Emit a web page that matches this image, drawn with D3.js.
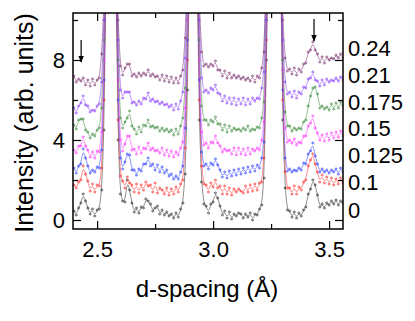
<!DOCTYPE html>
<meta charset="utf-8">
<style>
body { margin: 0; background: #fff; }
text { font-family: "Liberation Sans", Arial, sans-serif; fill: #000; }
.axis path { display: none; }
.axis line { stroke: #000; stroke-width: 1.2px; }
.axis text { font-size: 22px; }
</style>
<svg width="415" height="321"></svg>
<script src="https://d3js.org/d3.v7.min.js"></script>
<script>

// d-spacing grid: first value and step (A)
var dStart = 2.40, dStep = 0.01;

// intensity of each composition, offset as in the figure
var s000 = [0.45,0.25,0.6,0.85,1.3,0.95,0.6,0.3,0.55,0.2, 0.5,0.55,1.5,4.5,14,15,15,15,14,4.0,
  1.3,0.95,0.9,2.0,1.5,0.85,0.4,0.6,0.35,0.65, 0.6,1.05,0.95,0.8,0.45,0.6,0.7,0.3,0.5,0.25,
  0.4,0.2,0.3,0.1,0.35,0.15,0.55,0.85,2.3,6.5, 15,15,15,14,5.0,1.9,0.8,0.7,0.35,0.8,
  0.9,1.35,1.1,0.7,0.25,0.45,0.1,0.4,0.05,0.3, 0.2,0.35,0.3,0.1,0.3,0.15,0.35,0.0,0.3,0.25,
  0.55,0.75,2.1,8,15,15,15,15,15,14, 5,1.6,0.5,0.45,0.15,0.4,0.1,0.35,0.2,0.5,
  0.65,1.3,1.55,2.0,1.75,1.25,0.65,0.8,0.6,0.85, 0.75,0.95,0.8,1.0,0.75,0.95,0.85];
var s100 = [1.75,1.6,1.9,2.0,2.7,2.3,1.95,1.45,1.8,1.4, 1.75,1.7,2.6,6,15,15,15,15,15,5,
  2.2,1.95,1.6,2.15,1.85,1.75,1.4,1.8,1.35,1.75, 1.5,1.9,1.7,1.75,1.4,1.85,1.35,1.6,1.5,1.3,
  1.6,1.25,1.55,1.3,1.65,1.4,1.8,2.0,3.6,8, 15,15,15,15,6,2.7,1.8,1.75,1.4,1.85,
  1.65,2.0,1.6,1.7,1.3,1.7,1.3,1.6,1.25,1.55, 1.4,1.55,1.45,1.35,1.7,1.4,1.75,1.45,1.8,1.5,
  1.85,1.9,3.1,9,15,15,15,15,15,15, 6,2.4,1.6,1.6,1.3,1.7,1.3,1.65,1.5,1.9,
  2.0,2.7,3.0,3.3,2.8,2.4,1.9,2.25,1.85,2.15, 1.8,2.1,1.75,2.05,1.8,2.1,1.85];
var s125 = [2.6,2.35,2.7,2.8,3.55,3.1,2.7,2.35,2.5,2.4, 2.65,2.6,3.5,7,15,15,15,15,15,6,
  3.1,2.55,2.9,3.3,3.25,2.5,2.5,2.25,2.55,2.45, 2.8,2.8,3.1,2.7,2.8,2.5,2.75,2.4,2.65,2.35,
  2.5,2.2,2.3,2.05,2.2,2.05,2.4,2.7,4.6,9, 15,15,15,15,7,3.4,2.7,2.8,2.55,2.85,
  2.75,3.05,2.75,2.5,2.15,2.4,2.1,2.45,2.2,2.5, 2.25,2.55,2.3,2.6,2.35,2.65,2.4,2.7,2.45,2.75,
  2.6,3.1,3.9,10,15,15,15,15,15,15, 6.5,3.1,2.45,2.55,2.4,2.5,2.45,2.6,2.5,2.85,
  2.8,3.3,3.45,3.85,3.2,2.8,2.4,2.55,2.4,2.5, 2.35,2.5,2.4,2.55,2.3,2.6,2.4];
var s150 = [3.5,3.35,3.7,3.7,4.15,3.7,3.5,3.15,3.4,3.1, 3.45,3.4,4.4,8,15,15,15,15,15,7,
  4.0,3.45,3.8,4.2,4.2,3.5,3.55,3.3,3.65,3.35, 3.6,3.55,3.85,3.5,3.6,3.45,3.5,3.35,3.6,3.25,
  3.5,3.2,3.45,3.15,3.4,3.25,3.6,3.9,5.6,10, 15,15,15,15,8,4.4,3.75,3.85,3.6,3.9,
  3.85,4.2,3.85,3.7,3.4,3.55,3.45,3.5,3.3,3.6, 3.25,3.6,3.3,3.55,3.25,3.6,3.3,3.55,3.45,3.6,
  3.5,4.0,4.9,11,15,15,15,15,15,15, 7.5,4.6,3.9,4.0,3.85,4.05,3.75,3.9,3.85,4.2,
  4.2,4.7,4.85,5.2,4.6,4.35,4.0,4.25,3.95,4.3, 4.0,4.35,4.1,4.4,4.15,4.45,4.2];
var s175 = [4.75,4.55,5.0,5.05,5.05,4.5,4.4,4.1,4.3,4.2, 4.5,4.6,5.6,9,15,15,15,15,15,8,
  5.1,4.6,4.9,5.1,5.45,4.7,4.55,4.3,4.65,4.4, 4.75,4.7,5.0,4.65,4.7,4.6,4.65,4.45,4.6,4.45,
  4.55,4.4,4.5,4.25,4.55,4.3,4.7,5.1,6.6,11, 15,15,15,15,9,5.7,5.0,5.0,4.75,5.0,
  4.9,5.15,4.8,4.8,4.5,4.75,4.4,4.7,4.45,4.6, 4.5,4.55,4.45,4.6,4.5,4.7,4.45,4.55,4.5,4.65,
  4.6,5.1,5.9,12,15,15,15,15,15,15, 8,5.4,4.7,4.7,4.45,4.6,4.5,4.6,4.55,4.9,
  5.0,5.7,6.2,6.6,6.65,6.3,5.6,5.7,5.55,5.65, 5.5,5.8,5.55,5.85,5.6,5.9,5.7];
var s210 = [5.6,5.35,5.7,5.85,6.2,5.75,5.7,5.4,5.5,5.45, 5.7,5.8,6.9,10,15,15,15,15,15,9,
  6.5,6.1,6.4,6.4,6.4,5.85,5.9,5.75,5.95,5.8, 6.1,6.05,6.35,5.95,6.05,5.9,5.95,5.8,5.9,5.75,
  5.8,5.65,5.75,5.5,5.8,5.55,5.95,6.4,8.1,12, 15,15,15,15,10,7.1,6.4,6.5,6.35,6.6,
  6.5,6.75,6.35,6.3,5.95,6.2,5.85,6.1,5.8,6.1, 5.75,6.05,5.8,6.1,5.75,6.05,5.8,6.1,5.95,6.1,
  6.05,6.6,7.4,13,15,15,15,15,15,15, 9,6.9,6.3,6.4,6.15,6.45,6.1,6.4,6.3,6.65,
  6.6,7.05,7.1,7.4,7.0,6.95,6.7,7.0,6.75,7.05, 6.9,7.0,6.95,7.1,6.95,7.15,7.0];
var s240 = [7.2,6.9,7.05,6.95,7.1,6.75,7.0,6.7,7.05,6.75, 7.0,7.1,8.3,11,15,15,15,15,15,10,
  7.7,7.25,7.6,7.8,7.8,7.2,7.3,7.15,7.35,7.2, 7.35,7.25,7.5,7.2,7.3,7.15,7.2,7.0,7.25,6.95,
  7.2,6.9,7.15,6.85,7.1,6.85,7.2,7.5,9.1,13, 15,15,15,15,11,8.4,7.7,7.8,7.65,7.8,
  7.7,7.95,7.5,7.5,7.2,7.45,7.1,7.35,7.1,7.25, 7.1,7.2,7.05,7.15,7.0,7.1,6.95,7.2,6.9,7.2,
  7.1,7.6,8.4,13,15,15,15,15,15,15, 10,8.1,7.45,7.55,7.3,7.6,7.25,7.55,7.4,7.8,
  7.85,8.4,8.5,8.9,8.5,8.3,7.9,8.15,7.85,8.15, 8.0,8.1,8.05,8.25,8.1,8.3,8.1];

var seriesNames = ["0", "0.1", "0.125", "0.15", "0.175", "0.21", "0.24"];
var seriesValues = [s000, s100, s125, s150, s175, s210, s240];
var seriesColors = ["#303030", "#ff2a2a", "#2a3cff", "#ff33ff", "#3a8a3a", "#8a3cff", "#7a2e70"];
var labelLevels = [0.5, 1.9, 3.25, 4.6, 5.9, 7.25, 8.6];   // where the names sit, in intensity units

var xMajor = [2.5, 3.0, 3.5], xMinor = [2.75, 3.25];
var yMajor = [0, 4, 8], yMinor = [2, 6, 10];

// arrows marking the weak reflections: d, start, end
var arrows = [[2.431, 9.0, 7.9], [3.435, 10.05, 8.95]];

var svg = d3.select("svg"),
    margin = {top: 13, right: 72, bottom: 92, left: 73},
    width = +svg.attr("width") - margin.left - margin.right,
    height = +svg.attr("height") - margin.top - margin.bottom;

var g = svg.append("g").attr("transform", "translate(" + margin.left + "," + margin.top + ")");

var x = d3.scaleLinear().domain([2.396, 3.56]).range([0, width]);
var y = d3.scaleLinear().domain([-0.45, 10.35]).range([height, 0]);

svg.append("defs").append("clipPath").attr("id", "plot")
  .append("rect").attr("width", width).attr("height", height);

var plot = g.append("g").attr("clip-path", "url(#plot)");

var line = d3.line()
    .x(function(d, i) { return x(dStart + i * dStep); })
    .y(function(d) { return y(d); })
    .curve(d3.curveBasis);

seriesValues.forEach(function(vals, k) {
  var c = seriesColors[k];
  plot.append("path")
    .datum(vals)
    .attr("fill", "none")
    .attr("stroke", c)
    .attr("stroke-opacity", 0.55)
    .attr("stroke-width", 1)
    .attr("d", line);
  plot.append("g")
    .selectAll("circle")
    .data(vals)
    .enter().append("circle")
      .attr("cx", function(d, i) { return x(dStart + i * dStep); })
      .attr("cy", function(d) { return y(d); })
      .attr("r", 1.2)
      .attr("fill", c)
      .attr("fill-opacity", 0.5)
      .attr("stroke", c)
      .attr("stroke-opacity", 0.6)
      .attr("stroke-width", 0.5);
});

// arrows
svg.append("defs").append("marker")
    .attr("id", "head").attr("viewBox", "0 0 10 10")
    .attr("refX", 9).attr("refY", 5)
    .attr("markerWidth", 6).attr("markerHeight", 6)
    .attr("orient", "auto")
  .append("path").attr("d", "M0,1L10,5L0,9Z").attr("fill", "#000");

g.selectAll(".arrow")
  .data(arrows)
  .enter().append("line")
    .attr("class", "arrow")
    .attr("x1", function(d) { return x(d[0]); })
    .attr("x2", function(d) { return x(d[0]); })
    .attr("y1", function(d) { return y(d[1]); })
    .attr("y2", function(d) { return y(d[2]); })
    .attr("stroke", "#000")
    .attr("stroke-width", 1.2)
    .attr("marker-end", "url(#head)");

// axes, ticks pointing inward
g.append("g").attr("class", "axis")
    .attr("transform", "translate(0," + height + ")")
    .call(d3.axisBottom(x).tickValues(xMajor).tickFormat(d3.format(".1f")).tickSize(-8).tickPadding(12));
g.append("g").attr("class", "axis")
    .attr("transform", "translate(0," + height + ")")
    .call(d3.axisBottom(x).tickValues(xMinor).tickFormat("").tickSize(-5));
g.append("g").attr("class", "axis")
    .call(d3.axisTop(x).tickValues(xMajor).tickFormat("").tickSize(-8));
g.append("g").attr("class", "axis")
    .call(d3.axisTop(x).tickValues(xMinor).tickFormat("").tickSize(-5));

g.append("g").attr("class", "axis")
    .call(d3.axisLeft(y).tickValues(yMajor).tickSize(-8).tickPadding(8));
g.append("g").attr("class", "axis")
    .call(d3.axisLeft(y).tickValues(yMinor).tickFormat("").tickSize(-5));
g.append("g").attr("class", "axis")
    .attr("transform", "translate(" + width + ",0)")
    .call(d3.axisRight(y).tickValues(yMajor).tickFormat("").tickSize(-8));
g.append("g").attr("class", "axis")
    .attr("transform", "translate(" + width + ",0)")
    .call(d3.axisRight(y).tickValues(yMinor).tickFormat("").tickSize(-5));

g.append("rect")
    .attr("width", width).attr("height", height)
    .attr("fill", "none").attr("stroke", "#000").attr("stroke-width", 1.5);

// composition labels on the right
g.selectAll(".name")
  .data(seriesNames)
  .enter().append("text")
    .attr("class", "name")
    .attr("x", width + 5)
    .attr("y", function(d, i) { return y(labelLevels[i]); })
    .attr("dy", "0.35em")
    .style("font-size", "22px")
    .text(function(d) { return d; });

svg.append("text")
    .attr("x", margin.left + width / 2 - 1)
    .attr("y", 297)
    .attr("text-anchor", "middle")
    .style("font-size", "24px")
    .text("d-spacing (Å)");

svg.append("text")
    .attr("transform", "translate(33,123) rotate(-90)")
    .attr("text-anchor", "middle")
    .style("font-size", "25px")
    .text("Intensity (arb. units)");

</script>
